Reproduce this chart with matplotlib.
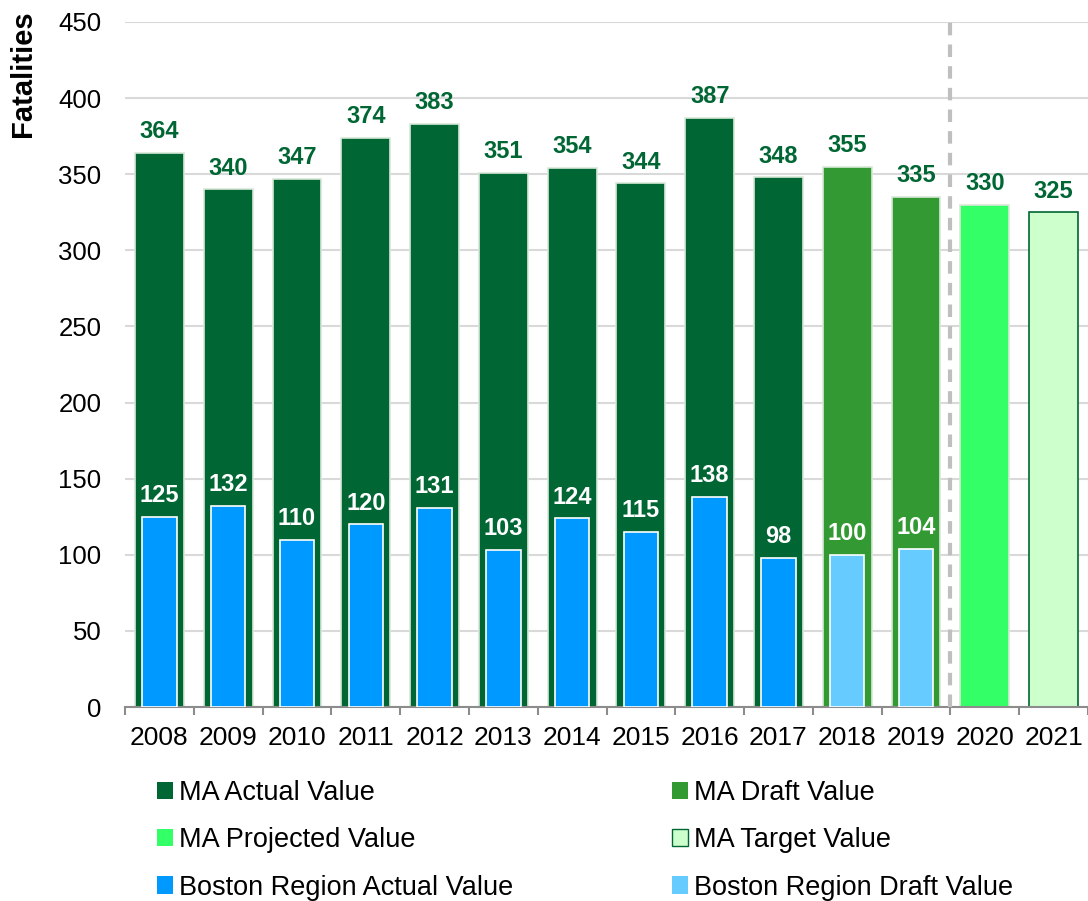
import matplotlib.pyplot as plt
import numpy as np
from matplotlib.patches import Patch

plt.rcParams['font.family'] = ['Liberation Sans', 'DejaVu Sans']

# daten
years = ['2008', '2009', '2010', '2011', '2012', '2013', '2014',
         '2015', '2016', '2017', '2018', '2019', '2020', '2021']
ma_vals = [364, 340, 347, 374, 383, 351, 354, 344, 387, 348, 355, 335, 330, 325]
ma_kind = ['actual'] * 10 + ['draft'] * 2 + ['projected', 'target']
boston_vals = [125, 132, 110, 120, 131, 103, 124, 115, 138, 98, 100, 104]
boston_kind = ['actual'] * 10 + ['draft'] * 2

ma_colors = {'actual': '#006633', 'draft': '#339933',
             'projected': '#33FF66', 'target': '#CCFFCC'}
bos_colors = {'actual': '#0099FF', 'draft': '#66CCFF'}
label_green = '#006633'

fig = plt.figure(figsize=(10.88, 9.01), dpi=100)
ax = fig.add_axes([0.1149, 0.2153, 0.8851, 0.7603])

x = np.arange(len(years))

# MA balken
for i, (v, k) in enumerate(zip(ma_vals, ma_kind)):
    edge = '#006633' if k == 'target' else '#d8e8d8'
    ax.bar(x[i], v, width=0.71, color=ma_colors[k], edgecolor=edge,
           linewidth=1.2, zorder=2)
    ax.annotate(str(v), (x[i], v), xytext=(0, 7), textcoords='offset points',
                ha='center', va='bottom', fontsize=17, fontweight='bold',
                color=label_green)

# Boston balken
for i, (v, k) in enumerate(zip(boston_vals, boston_kind)):
    ax.bar(x[i], v, width=0.5, color=bos_colors[k], edgecolor='white',
           linewidth=1.2, zorder=3)
    ax.annotate(str(v), (x[i], v), xytext=(0, 7), textcoords='offset points',
                ha='center', va='bottom', fontsize=17, fontweight='bold',
                color='white', zorder=4)

# trennlinie
ax.axvline(11.5, color='#BFBFBF', lw=3, linestyle=(0, (3, 2.2)), zorder=4)

# achsen
ax.set_xlim(-0.5, 13.5)
ax.set_ylim(0, 450)
ax.set_yticks(np.arange(0, 451, 50))
ax.yaxis.grid(True, color='#D9D9D9', lw=1.5, zorder=0)
ax.set_axisbelow(True)
ax.set_xticks(x)
ax.set_xticklabels(years)
ax.set_xticks(np.arange(-0.5, 13.6, 1), minor=True)
ax.tick_params(axis='x', which='major', length=0, labelsize=19, pad=14)
ax.tick_params(axis='x', which='minor', length=6, color='#8C8C8C', width=1.5)
ax.tick_params(axis='y', length=0, labelsize=18.5, pad=17)
for s in ['top', 'right', 'left']:
    ax.spines[s].set_visible(False)
ax.spines['bottom'].set_color('#8C8C8C')
ax.spines['bottom'].set_linewidth(1.5)

ax.set_ylabel('Fatalities', fontsize=21, fontweight='bold')
ax.yaxis.set_label_coords(-0.0914, 0.925)

# legende
handles = [
    Patch(facecolor=ma_colors['actual'], label='MA Actual Value'),
    Patch(facecolor=ma_colors['projected'], label='MA Projected Value'),
    Patch(facecolor=bos_colors['actual'], label='Boston Region Actual Value'),
    Patch(facecolor=ma_colors['draft'], label='MA Draft Value'),
    Patch(facecolor=ma_colors['target'], edgecolor='#006633', label='MA Target Value'),
    Patch(facecolor=bos_colors['draft'], label='Boston Region Draft Value'),
]
fig.legend(handles=handles, ncol=2, loc='lower left', bbox_to_anchor=(0.122, -0.0265),
           frameon=False, fontsize=19.5, handlelength=0.6, handleheight=0.6,
           handletextpad=0.22, labelspacing=0.78, columnspacing=5.84)

fig.savefig('out.png', dpi=100)
